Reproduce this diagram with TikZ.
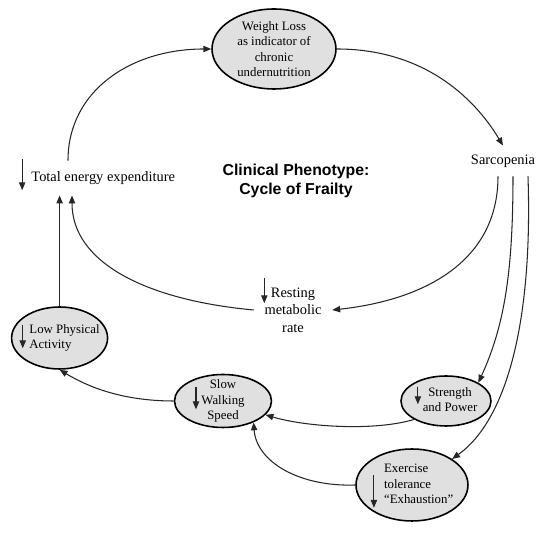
\documentclass[tikz,border=0pt]{standalone}
\usepackage{fontspec}
\setmainfont{Liberation Serif}
\newfontfamily\titlefont{Liberation Sans}
\usetikzlibrary{shapes.geometric, arrows.meta, calc}
\tikzstyle{phen} = [ellipse, draw=black, line width=0.9pt, fill=black!12, align=center,
    inner sep=-1pt, font=\fontsize{7.3}{8.8}\selectfont]
\tikzstyle{plain} = [align=center, inner sep=2pt, font=\fontsize{8.2}{10}\selectfont]
\tikzstyle{heading} = [align=center, font=\titlefont\bfseries\fontsize{9}{10.8}\selectfont]
\tikzstyle{arrow} = [line width=0.6pt, draw=black!85, -{Triangle[length=4.5pt, width=3.6pt]}]
\newcommand{\dn}[2]{\smash{\tikz[baseline=0pt]\draw[arrow] (0,#1) -- (0,-#2);}}

\begin{document}
\begin{tikzpicture}[x=0.02cm, y=-0.02cm]
\useasboundingbox (0,0) rectangle (539,533);
\node (wl) [phen, minimum width=2.48cm, minimum height=1.6cm] at (274,49) {Weight Loss\\as indicator of\\chronic\\undernutrition};
\node (tee) [plain, inner ysep=6pt] at (97,178) {\dn{13pt}{5pt}\hspace{3.5pt}Total energy expenditure};
\node (sarc) [plain, inner ysep=5pt] at (503,161) {Sarcopenia};
\node (title) [heading] at (296,181) {Clinical Phenotype:\\Cycle of Frailty};
\node (rmr) [plain, inner xsep=6pt] at (293,310) {\llap{\dn{11pt}{3.5pt}\hspace{2pt}}Resting\\metabolic\\rate};
\node (lpa) [phen, inner xsep=-3.5pt, minimum width=1.92cm, minimum height=1.24cm] at (59.6,338) {\dn{5pt}{8.5pt}\hspace{2pt}\begin{tabular}[t]{@{}l@{}}Low Physical\\Activity\end{tabular}};
\node (sw) [phen, inner ysep=-1.5pt, minimum width=1.94cm, minimum height=1.06cm] at (223,401) {Slow\\\llap{\dn{10pt}{3pt}\hspace{1.3pt}}Walking\\Speed};
\node (sp) [phen, minimum width=1.8cm, minimum height=1.0cm] at (446,401) {\dn{5.5pt}{4.5pt}\hspace{1pt}\begin{tabular}[t]{@{}c@{}}Strength\\and Power\end{tabular}};
\node (ex) [phen, minimum width=2.24cm, minimum height=1.44cm] at (412,485) {\dn{-1.5pt}{20pt}\hspace{4pt}\begin{tabular}[t]{@{}l@{}}Exercise\\tolerance\\``Exhaustion''\end{tabular}};

\draw[arrow] ($(tee.north)+(-29,0)$) .. controls +(0,-70) and +(-80,0) .. (wl.west);
\draw[arrow] (wl.east) .. controls +(85,0) and +(-30,-50) .. (sarc.north);
\draw[arrow] ($(sarc.south)+(-5,0)$) .. controls +(0,85) and +(92,-10) .. (rmr.east);
\draw[arrow] (rmr.west) .. controls +(-108,-10) and +(0,67) .. ($(tee.south)+(-25,0)$);
\draw[arrow] ($(sarc.south)+(10,0)$) .. controls +(0,100) and +(25,-55) .. (sp.north east);
\draw[arrow] ($(sarc.south)+(25,0)$) .. controls +(5,150) and +(53,-38) .. (ex.north east);
\draw[arrow] (lpa) -- (lpa |- tee.south);
\draw[arrow] (sw.west) .. controls +(-55,0) and +(25,15) .. (lpa.south);
\draw[arrow] (sp.210) .. controls +(-40,12) and +(40,12) .. (sw.-18);
\draw[arrow] (ex.west) .. controls +(-55,2) and +(3,40) .. (sw.-35);
\end{tikzpicture}
\end{document}
